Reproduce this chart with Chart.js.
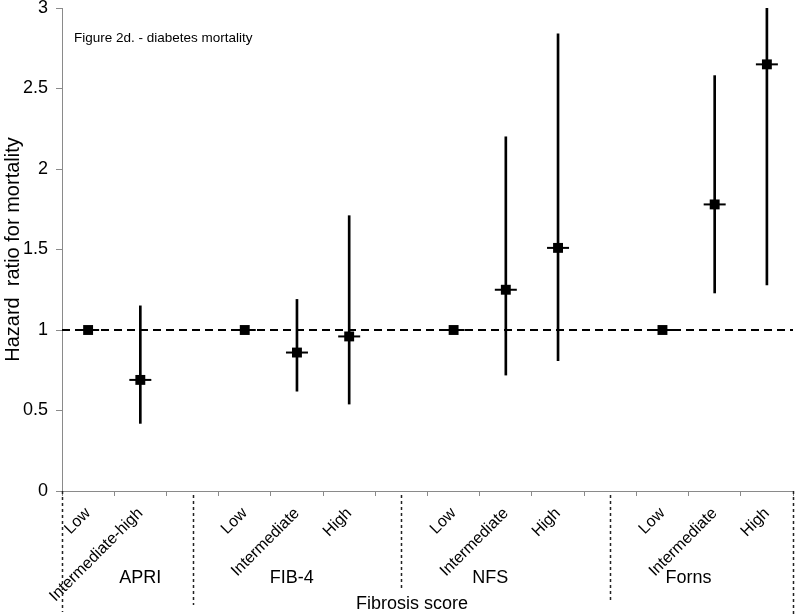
<!DOCTYPE html>
<html>
<head>
<meta charset="utf-8">
<script src="https://cdn.jsdelivr.net/npm/chart.js@4"></script>
<style>
  body { margin: 0; background: #fff; }
  #wrap { width: 800px; height: 615px; }
</style>
</head>
<body>
<div id="wrap"><canvas id="hrChart" width="800" height="615"></canvas></div>
<script>
// categories (blank slots separate the four scores)
var categories = ["Low", "Intermediate-high", "", "Low", "Intermediate", "High", "", "Low", "Intermediate", "High", "", "Low", "Intermediate", "High"];
var hazardRatio = [1.00, 0.69, null, 1.00, 0.86, 0.96, null, 1.00, 1.25, 1.51, null, 1.00, 1.78, 2.65];
var ciLower = [null, 0.42, null, null, 0.62, 0.54, null, null, 0.72, 0.81, null, null, 1.23, 1.28];
var ciUpper = [null, 1.15, null, null, 1.19, 1.71, null, null, 2.20, 2.84, null, null, 2.58, 3.00];
var groupNames = ["APRI", "FIB-4", "NFS", "Forns"];
var yTicks = [0, 0.5, 1, 1.5, 2, 2.5, 3];
var referenceLevel = 1;

var FONT = "'Liberation Sans', Arial, sans-serif";
var AXIS_GREY = "#8a8a8a";

var ciBars = categories.map(function (_, i) {
    return ciLower[i] == null ? null : [ciLower[i], ciUpper[i]];
});

// extras: reference line, separators, group labels, texts
var extrasPlugin = {
    id: "extras",
    beforeDatasetsDraw: function (chart) {
        var ctx = chart.ctx;
        var area = chart.chartArea;
        var y = chart.scales.y.getPixelForValue(referenceLevel);
        ctx.save();
        ctx.strokeStyle = "#000";
        ctx.lineWidth = 2;
        ctx.setLineDash([8, 5]);
        ctx.beginPath();
        ctx.moveTo(area.left, y);
        ctx.lineTo(area.right, y);
        ctx.stroke();
        ctx.restore();
    },
    afterDraw: function (chart) {
        var ctx = chart.ctx;
        var area = chart.chartArea;
        var x = chart.scales.x;
        ctx.save();

        // dotted separators below the axis
        var sepX = [area.left];
        categories.forEach(function (c, i) { if (c === "") sepX.push(x.getPixelForValue(i)); });
        sepX.push(area.right);
        var sepEnd = [612, 605, 588, 603, 615];
        ctx.strokeStyle = "#222";
        ctx.lineWidth = 1.5;
        ctx.setLineDash([3, 3]);
        sepX.forEach(function (sx, i) {
            ctx.beginPath();
            ctx.moveTo(Math.round(sx) + 0.5, area.bottom + (i === 0 || i === sepX.length - 1 ? 0 : 4));
            ctx.lineTo(Math.round(sx) + 0.5, sepEnd[i]);
            ctx.stroke();
        });
        ctx.setLineDash([]);

        // group names
        var groupPos = [1.0, 3.9, 7.7, 11.5];
        ctx.fillStyle = "#000";
        ctx.font = "18px " + FONT;
        ctx.textAlign = "center";
        ctx.textBaseline = "middle";
        groupNames.forEach(function (g, i) {
            var gx = x.left + (groupPos[i] + 0.5) * (x.width / categories.length);
            ctx.fillText(g, gx, 578);
        });

        ctx.fillText("Fibrosis score", 412, 604);

        ctx.font = "13.5px " + FONT;
        ctx.textAlign = "left";
        ctx.textBaseline = "alphabetic";
        ctx.fillText("Figure 2d. - diabetes mortality", 74, 42);
        ctx.restore();
    }
};

new Chart(document.getElementById("hrChart"), {
    type: "bar",
    data: {
        labels: categories,
        datasets: [
            {
                type: "line",
                label: "HR marker",
                data: hazardRatio,
                showLine: false,
                pointStyle: "rect",
                pointRadius: 7,
                backgroundColor: "#000",
                borderWidth: 0,
                order: 0,
            },
            {
                type: "line",
                label: "HR dash",
                data: hazardRatio,
                showLine: false,
                pointStyle: "line",
                pointRadius: 11,
                borderColor: "#000",
                borderWidth: 2,
                order: 1,
            },
            {
                type: "bar",
                label: "95% CI",
                data: ciBars,
                backgroundColor: "#000",
                barThickness: 2,
                order: 2,
            },
        ],
    },
    options: {
        responsive: false,
        animation: false,
        layout: { autoPadding: false, padding: { left: 0, right: 7, top: 0, bottom: 0 } },
        scales: {
            x: {
                grid: { display: true, drawOnChartArea: false, offset: true, tickLength: 5, color: AXIS_GREY },
                border: { color: AXIS_GREY, width: 1 },
                ticks: {
                    autoSkip: false,
                    maxRotation: 45,
                    minRotation: 45,
                    color: "#000",
                    padding: 8,
                    font: { family: FONT, size: 16 },
                },
                afterFit: function (scale) {
                    scale.height = 124;
                    scale.paddingLeft = 0;
                    scale.paddingRight = 0;
                },
            },
            y: {
                min: 0,
                max: 3,
                afterBuildTicks: function (scale) {
                    scale.ticks = yTicks.map(function (v) { return { value: v }; });
                },
                grid: { display: true, drawOnChartArea: false, tickLength: 6, color: AXIS_GREY },
                border: { color: AXIS_GREY, width: 1 },
                ticks: {
                    color: "#000",
                    padding: 8,
                    font: { family: FONT, size: 18 },
                    callback: function (value) { return String(value); },
                },
                title: {
                    display: true,
                    text: "Hazard  ratio for mortality",
                    color: "#000",
                    padding: 1,
                    font: { family: FONT, size: 20 },
                },
                afterFit: function (scale) {
                    scale.width = 62;
                    scale.paddingTop = 8;
                    scale.paddingBottom = 0;
                },
            },
        },
        plugins: {
            legend: { display: false },
            tooltip: { enabled: false },
        },
    },
    plugins: [extrasPlugin],
});
</script>
</body>
</html>
